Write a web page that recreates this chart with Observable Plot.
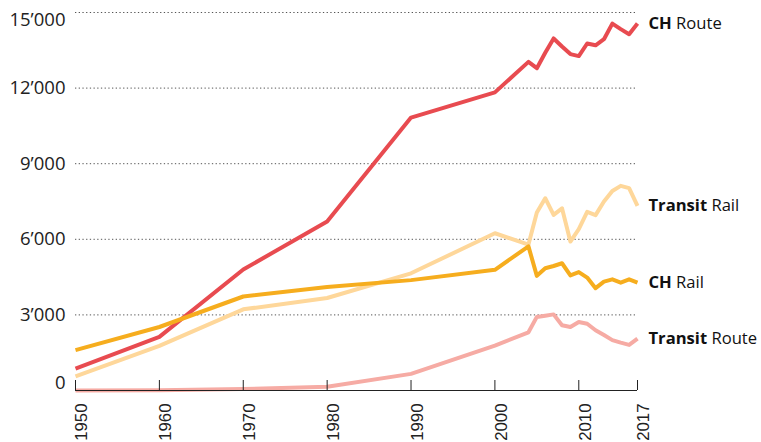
<!DOCTYPE html>
<html>
<head>
<meta charset="utf-8">
<script src="https://cdn.jsdelivr.net/npm/d3@7"></script>
<script src="https://cdn.jsdelivr.net/npm/@observablehq/plot@0.6"></script>
<style>
  html, body { margin: 0; padding: 0; background: #fff; }
  #chart svg { display: block; }
</style>
</head>
<body>
<div id="chart"></div>
<script>
const years = [1950, 1960, 1970, 1980, 1990, 2000, 2004, 2005, 2006, 2007, 2008, 2009, 2010, 2011, 2012, 2013, 2014, 2015, 2016, 2017];
const chRoute      = [870, 2130, 4800, 6710, 10830, 11830, 13040, 12790, 13400, 13970, 13650, 13350, 13270, 13770, 13700, 13940, 14560, 14340, 14140, 14560];
const chRail       = [1600, 2520, 3730, 4110, 4380, 4790, 5720, 4550, 4850, 4940, 5050, 4570, 4700, 4480, 4060, 4320, 4410, 4280, 4410, 4280];
const transitRail  = [560, 1770, 3220, 3670, 4650, 6240, 5790, 7060, 7630, 6970, 7230, 5910, 6400, 7090, 6960, 7500, 7920, 8120, 8030, 7330];
const transitRoute = [0, 10, 60, 150, 660, 1780, 2310, 2920, 2970, 3020, 2590, 2520, 2720, 2650, 2390, 2200, 2000, 1900, 1810, 2060];

const seriesNames  = ["Transit Route", "Transit Rail", "CH Route", "CH Rail"];
const seriesValues = [transitRoute, transitRail, chRoute, chRail];
const seriesColors = ["#f6aba4", "#fed79a", "#e84b50", "#f6ad1e"];

const xTicks = [1950, 1960, 1970, 1980, 1990, 2000, 2010, 2017];
const yTicks = [3000, 6000, 9000, 12000, 15000];
const yLabelsMid = [3000, 6000, 9000, 12000];

const rows = [];
seriesNames.forEach((name, i) => {
  years.forEach((yr, j) => rows.push({series: name, year: yr, value: seriesValues[i][j]}));
});
const lastRows = seriesNames.map((name, i) => ({series: name, year: years[years.length - 1], value: seriesValues[i][years.length - 1]}));

const fmt = d3.formatLocale({decimal: ".", thousands: "\u2019", grouping: [3], currency: ["", ""]}).format(",");

const W = 761, H = 442;
const mL = 75, mR = 124, mT = 12, mB = 52;
const plotH = H - mT - mB;
const yFont = {fontSize: 18.5, fill: "#222"};

const chart = Plot.plot({
  width: W,
  height: H,
  marginLeft: mL,
  marginRight: mR,
  marginTop: mT,
  marginBottom: mB,
  style: {fontFamily: "'Open Sans', sans-serif", fontSize: "17px", color: "#222", background: "#fff", overflow: "visible"},
  x: {domain: [1950, 2017], axis: null},
  y: {domain: [0, 15000], axis: null},
  color: {domain: seriesNames, range: seriesColors},
  marks: [
    Plot.ruleY(yTicks, {stroke: "#555", strokeWidth: 1, strokeDasharray: "1.3,2.4"}),
    Plot.text(yLabelsMid, {y: d => d, text: d => fmt(d), frameAnchor: "left", textAnchor: "end", dx: -10, ...yFont}),
    Plot.text([15000], {y: d => d, text: d => fmt(d), frameAnchor: "left", textAnchor: "end", dx: -10, dy: 8, ...yFont}),
    Plot.text([0], {y: d => d, text: d => fmt(d), frameAnchor: "left", textAnchor: "end", dx: -10, dy: -7, ...yFont}),
    Plot.line(rows, {x: "year", y: "value", z: "series", stroke: "series", strokeWidth: 4, strokeLinejoin: "round", strokeLinecap: "butt"}),
    Plot.ruleY([0], {stroke: "#222", strokeWidth: 1}),
    Plot.tickX(xTicks, {x: d => d, stroke: "#222", strokeWidth: 1, insetTop: plotH - 10}),
    Plot.text(xTicks, {x: d => d, text: d => String(d), frameAnchor: "bottom", rotate: -90, textAnchor: "end", lineAnchor: "top", dy: 13, fontFamily: "'Liberation Sans', Arial, sans-serif", fontSize: 16.8, fill: "#222"}),
    Plot.text(lastRows, {x: "year", y: "value", text: "series", textAnchor: "start", dx: 11, fill: "#111", fontSize: 16.6, className: "endlabels"})
  ]
});

// Make the first word of each end label bold
d3.select(chart).selectAll(".endlabels text").each(function() {
  const t = d3.select(this);
  const s = t.text();
  const i = s.indexOf(" ");
  t.text(null);
  t.append("tspan").attr("font-weight", "bold").text(s.slice(0, i));
  t.append("tspan").text(s.slice(i));
});

document.getElementById("chart").appendChild(chart);
</script>
</body>
</html>
